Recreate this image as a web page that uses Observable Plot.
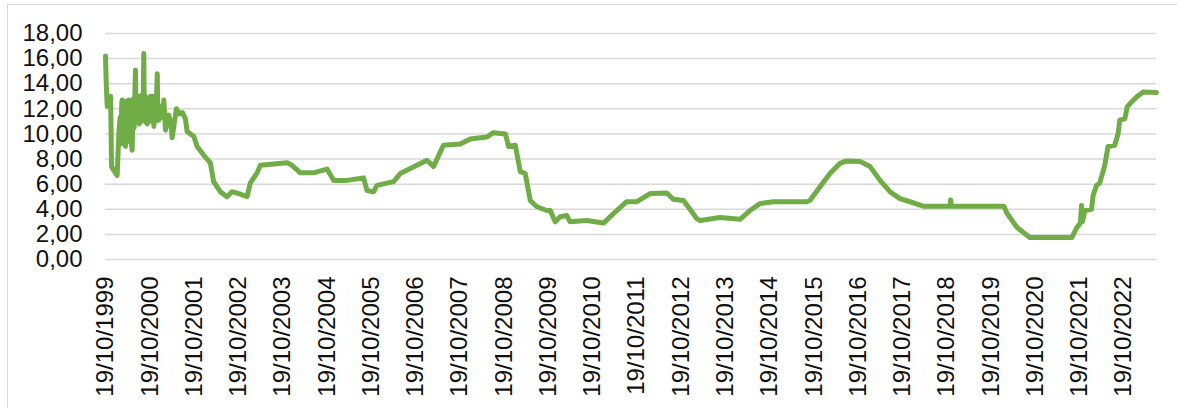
<!DOCTYPE html>
<html><head><meta charset="utf-8">
<script src="https://cdn.jsdelivr.net/npm/d3@7"></script>
<script src="https://cdn.jsdelivr.net/npm/@observablehq/plot@0.6"></script>
<style>
body{margin:0;background:#fff;}
#wrap{position:relative;width:1177px;height:408px;overflow:hidden;background:#fff;}
#wrap svg{position:absolute;left:0;top:0;}
#border{position:absolute;left:7px;top:4px;width:1200px;height:420px;border:1.5px solid #d9d9d9;box-sizing:border-box;pointer-events:none;}
</style></head><body><div id="wrap"><div id="border"></div></div>
<script>
const dates = [
"1999-10-19","1999-10-25","1999-11-02","1999-11-17","1999-11-30","1999-12-08","2000-01-02","2000-01-23","2000-02-06","2000-02-16",
"2000-02-24","2000-03-01","2000-03-05","2000-03-10","2000-03-15","2000-03-22","2000-04-01","2000-04-08","2000-04-15","2000-04-28",
"2000-05-03","2000-05-08","2000-05-15","2000-05-20","2000-05-26","2000-06-01","2000-06-05","2000-06-12","2000-06-17","2000-06-22",
"2000-06-27","2000-07-06","2000-07-10","2000-07-15","2000-07-20","2000-07-24","2000-07-29","2000-08-03","2000-08-10","2000-08-17",
"2000-08-24","2000-08-30","2000-09-03","2000-09-06","2000-09-10","2000-09-14","2000-09-20","2000-09-27","2000-10-03","2000-10-08",
"2000-10-14","2000-10-20","2000-10-25","2000-11-05","2000-11-12","2000-11-21","2000-11-28","2000-12-05","2000-12-12","2000-12-19",
"2000-12-24","2001-01-01","2001-01-15","2001-02-01","2001-02-11","2001-02-25","2001-03-24","2001-04-12","2001-04-21","2001-05-26",
"2001-06-20","2001-07-15","2001-08-08","2001-08-22","2001-10-17","2001-11-13","2002-01-07","2002-03-02","2002-03-29","2002-05-23",
"2002-07-17","2002-08-27","2002-11-05","2002-12-30","2003-01-26","2003-03-23","2003-04-19","2003-08-06","2003-11-25","2004-01-05",
"2004-03-13","2004-06-30","2004-10-20","2004-12-14","2005-04-03","2005-08-17","2005-09-14","2005-11-09","2005-12-06","2006-04-22",
"2006-06-16","2007-01-22","2007-03-17","2007-06-07","2007-10-24","2008-01-14","2008-05-30","2008-07-23","2008-10-30","2008-11-26",
"2009-01-20","2009-03-02","2009-04-12","2009-05-23","2009-07-17","2009-10-07","2009-11-04","2009-12-15","2010-01-25","2010-03-21",
"2010-04-17","2010-09-01","2011-01-17","2011-05-07","2011-07-28","2011-10-20","2012-02-06","2012-06-22","2012-08-15","2012-11-08",
"2013-02-26","2013-03-25","2013-09-04","2014-02-17","2014-05-10","2014-07-31","2014-11-19","2015-08-20","2015-09-16","2015-12-09",
"2016-02-29","2016-05-21","2016-07-15","2016-11-04","2017-01-25","2017-04-17","2017-07-08","2017-09-28","2017-12-20","2018-04-08",
"2018-11-15","2018-11-21","2018-11-28","2019-06-23","2020-02-03","2020-02-27","2020-05-17","2020-09-03","2021-08-16","2021-09-24",
"2021-10-26","2021-11-05","2021-11-12","2021-12-02","2022-01-26","2022-02-08","2022-03-08","2022-04-04","2022-05-15","2022-06-11",
"2022-08-05","2022-09-02","2022-09-16","2022-10-28","2022-11-16","2022-12-22","2023-02-01","2023-03-28","2023-07-16"
];
const values = [
16.2,14.0,12.2,12.9,13.0,7.4,7.0,6.7,10.0,11.3,
9.2,12.5,12.7,9.5,10.5,12.3,9.0,12.6,9.4,12.7,
10.0,12.4,12.5,9.2,8.7,12.0,12.8,10.5,12.9,15.1,
11.5,11.1,12.8,13.0,10.9,10.8,12.9,12.9,11.0,13.1,
11.4,16.4,11.2,11.0,12.9,13.0,10.9,10.8,12.6,12.8,
11.0,12.5,13.0,11.2,13.0,10.6,12.4,11.0,12.6,14.8,
11.4,11.1,12.2,11.3,12.7,10.3,11.5,10.8,9.7,12.0,
11.6,11.7,11.2,10.2,9.8,9.0,8.3,7.7,6.2,5.4,
5.0,5.4,5.2,5.0,6.1,6.9,7.5,7.6,7.7,7.5,
6.9,6.9,7.2,6.3,6.3,6.5,5.5,5.4,5.9,6.2,
6.85,7.9,7.4,9.1,9.2,9.6,9.75,10.1,10.0,9.0,
9.1,7.0,6.85,4.7,4.2,3.9,3.9,3.0,3.4,3.5,
3.0,3.1,2.9,3.9,4.6,4.6,5.25,5.3,4.8,4.7,
3.25,3.1,3.35,3.2,3.9,4.45,4.6,4.6,4.7,5.8,
6.85,7.65,7.85,7.8,7.4,6.3,5.4,4.85,4.6,4.25,
4.25,4.75,4.25,4.25,4.25,3.7,2.6,1.75,1.75,2.5,
2.9,4.3,3.0,3.9,4.0,5.1,5.9,6.1,7.5,9.0,
9.1,10.0,11.1,11.2,12.15,12.55,12.95,13.35,13.3
];
const xTickLabels = ["19/10/1999","19/10/2000","19/10/2001","19/10/2002","19/10/2003","19/10/2004","19/10/2005","19/10/2006",
"19/10/2007","19/10/2008","19/10/2009","19/10/2010","19/10/2011","19/10/2012","19/10/2013","19/10/2014","19/10/2015",
"19/10/2016","19/10/2017","19/10/2018","19/10/2019","19/10/2020","19/10/2021","19/10/2022"];
const yTicks = [0,2,4,6,8,10,12,14,16,18];
const xStart = "1999-10-19", xEnd = "2023-07-16";

const parseLabel = d3.utcParse("%d/%m/%Y");
const fmtLabel = d3.utcFormat("%d/%m/%Y");
const data = dates.map((d,i)=>({date:d3.isoParse(d), value:values[i]}));
const xTicks = xTickLabels.map(parseLabel);

const chart = Plot.plot({
  width:1177, height:408,
  marginLeft:105, marginRight:21, marginTop:33, marginBottom:149,
  style:{fontFamily:"'Liberation Sans', Arial, sans-serif", fontSize:"24px", color:"#111", background:"transparent", overflow:"visible"},
  x:{type:"utc", domain:[d3.isoParse(xStart), d3.isoParse(xEnd)], ticks:xTicks, tickFormat:d=>fmtLabel(d), tickRotate:-90, tickSize:0, tickPadding:17, label:null},
  y:{domain:[0,18], ticks:yTicks, tickFormat:d=>d.toFixed(2).replace(".",","), tickSize:0, tickPadding:23, label:null},
  marks:[
    Plot.gridY(yTicks,{stroke:"#d9d9d9", strokeOpacity:1, strokeWidth:1.5}),
    Plot.lineY(data,{x:"date", y:"value", stroke:"#70ad47", strokeWidth:5, strokeLinejoin:"round", strokeLinecap:"round"})
  ]
});
document.getElementById("wrap").insertBefore(chart, document.getElementById("border"));
</script>
</body></html>
